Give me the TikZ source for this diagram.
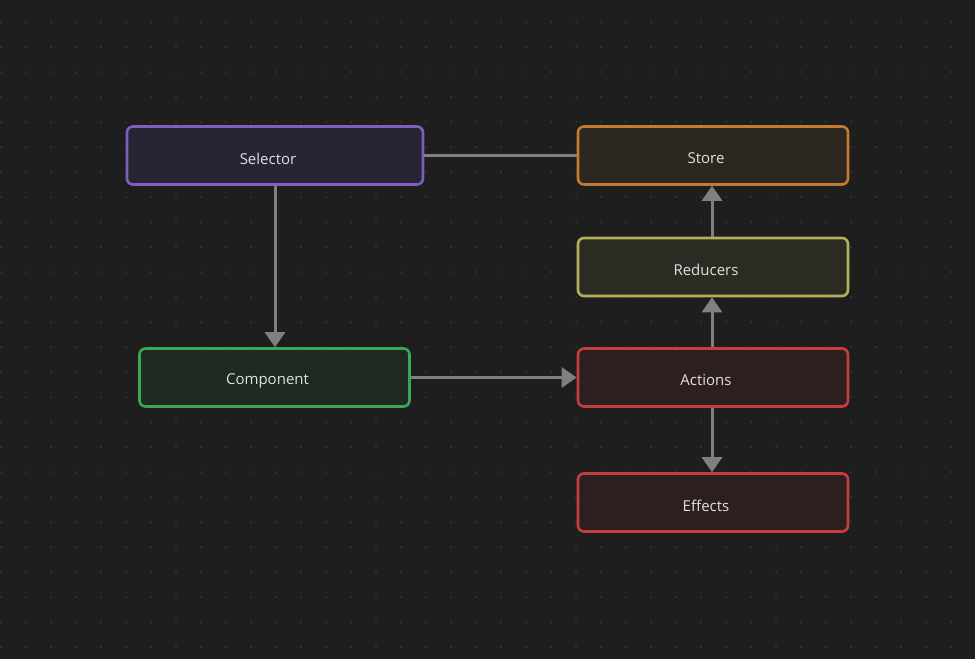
\documentclass[tikz,border=0pt]{standalone}
\usepackage{fontspec}
\setmainfont{Open Sans}
\usetikzlibrary{arrows.meta}

\definecolor{bg}{HTML}{1E1E1E}
\definecolor{griddot}{HTML}{3C3C3C}
\definecolor{wire}{HTML}{808080}
\definecolor{txt}{HTML}{E0E0E0}
\definecolor{selfill}{HTML}{272433}
\definecolor{seldraw}{HTML}{7E5FC0}
\definecolor{stofill}{HTML}{2C2720}
\definecolor{stodraw}{HTML}{C47A30}
\definecolor{redfill}{HTML}{2B2B23}
\definecolor{reddraw}{HTML}{B3B05A}
\definecolor{actfill}{HTML}{2D1F20}
\definecolor{actdraw}{HTML}{C63D3D}
\definecolor{cmpfill}{HTML}{1F2A22}
\definecolor{cmpdraw}{HTML}{3CA657}

\tikzset{
  x=1pt, y=-1pt,
  box/.style={rectangle, rounded corners=6pt, line width=2.6pt,
    minimum height=58pt, inner sep=0pt},
  lbl/.style={text=txt, font=\fontsize{15}{18}\selectfont, xshift=-7pt, yshift=-3pt},
  wireline/.style={draw=wire, line width=3pt},
  flow/.style={wireline, -{Triangle[width=20pt,length=15pt]}},
}

\begin{document}
\begin{tikzpicture}
  % canvas and dotted grid
  \fill[bg] (0,0) rectangle (975,659);
  \useasboundingbox (0,0) rectangle (975,659);
  \foreach \gx in {1,26,...,976} {
    \foreach \gy in {22,47,...,659} {
      \fill[griddot] (\gx,\gy) circle (1pt);
    }
  }

  % blocks
  \node[box, draw=seldraw, fill=selfill, minimum width=296pt,
        label={[lbl]center:Selector}] (sel) at (275,155.5) {};
  \node[box, draw=stodraw, fill=stofill, minimum width=270pt,
        label={[lbl]center:Store}] (sto) at (713,155.5) {};
  \node[box, draw=reddraw, fill=redfill, minimum width=270pt,
        label={[lbl]center:Reducers}] (red) at (713,267) {};
  \node[box, draw=cmpdraw, fill=cmpfill, minimum width=270pt,
        label={[lbl]center:Component}] (cmp) at (274.5,377.5) {};
  \node[box, draw=actdraw, fill=actfill, minimum width=270pt,
        label={[lbl]center:Actions}] (act) at (713,377.5) {};
  \node[box, draw=actdraw, fill=actfill, minimum width=270pt,
        label={[lbl]center:Effects}] (eff) at (713,502.5) {};

  % connectors
  \draw[wireline] (sel.east) -- (sto.west);
  \draw[flow] (sel.south) -- (sel.south |- cmp.north);
  \draw[flow] (cmp.east) -- (act.west);
  \draw[flow] ([xshift=-1pt]act.north) -- ([xshift=-1pt]red.south);
  \draw[flow] ([xshift=-1pt]red.north) -- ([xshift=-1pt]sto.south);
  \draw[flow] ([xshift=-1pt]act.south) -- ([xshift=-1pt]eff.north);
\end{tikzpicture}
\end{document}
